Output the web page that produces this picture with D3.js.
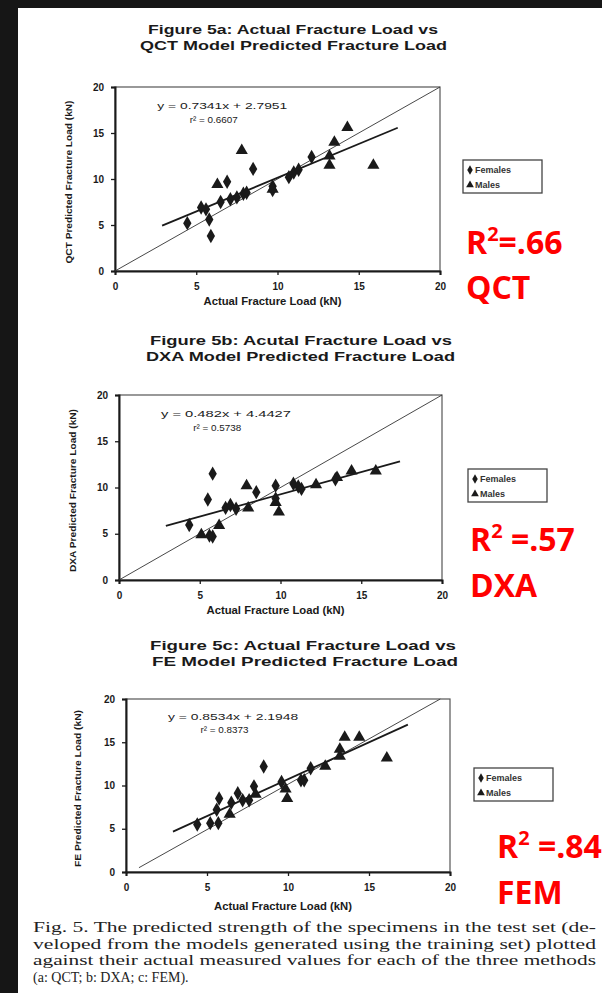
<!DOCTYPE html>
<html><head><meta charset="utf-8">
<script src="https://cdn.jsdelivr.net/npm/d3@7"></script>
<style>
html,body{margin:0;padding:0;background:#fff;}
svg{display:block;}
</style></head>
<body>
<svg id="chart" width="602" height="993"></svg>
<script>
// ---------- DATA ----------
const axisTicks = [0, 5, 10, 15, 20];
const panelTitles = [
  ["Figure 5a: Actual Fracture Load vs", "QCT Model Predicted Fracture Load"],
  ["Figure 5b: Acutal Fracture Load vs", "DXA Model Predicted Fracture Load"],
  ["Figure 5c: Actual Fracture Load vs", "FE Model Predicted Fracture Load"]
];
const yTitles = ["QCT Predicted Fracture Load (kN)", "DXA Predicted Fracture Load (kN)", "FE Predicted Fracture Load (kN)"];
const xTitle = "Actual Fracture Load (kN)";
const seriesNames = ["Females", "Males"];
const equations = ["y = 0.7341x + 2.7951", "y = 0.482x + 4.4427", "y = 0.8534x + 2.1948"];
const rSquared = ["r² = 0.6607", "r² = 0.5738", "r² = 0.8373"];
const slopes = [0.7341, 0.482, 0.8534];
const intercepts = [2.7951, 4.4427, 2.1948];
const fitRange = [2.9, 17.4];
const identityLines = [[[0, 0], [20, 20]], [[0, 0], [20, 20]], [[0.8, 0.5], [19.4, 20]]];
const redValues = ["=.66", " =.57", " =.84"];
const redMethods = ["QCT", "DXA", "FEM"];

const qctFemales = [[4.45,5.2],[5.3,6.9],[5.6,6.7],[5.8,5.6],[5.9,3.8],[6.9,9.7],[6.5,7.5],[7.1,7.8],[7.5,8.0],[7.9,8.4],[8.1,8.5],[8.5,11.1],[9.7,9.2],[9.7,8.8],[10.7,10.2],[11.0,10.7],[11.3,11.0],[12.1,12.4]];
const qctMales = [[6.3,9.5],[7.8,13.2],[9.7,9.0],[13.2,12.6],[13.2,11.6],[13.5,14.1],[14.3,15.7],[15.9,11.6]];
const dxaFemales = [[4.35,5.95],[5.8,4.7],[5.6,4.8],[5.8,11.5],[5.5,8.7],[6.6,7.8],[6.9,8.1],[7.25,7.7],[8.5,9.5],[9.7,10.2],[9.7,8.8],[10.8,10.4],[11.1,10.1],[11.3,9.85],[13.4,10.9]];
const dxaMales = [[5.1,5.0],[6.2,6.0],[7.9,10.3],[8.0,7.9],[9.7,8.5],[9.9,7.45],[12.2,10.4],[13.5,11.2],[14.4,11.9],[15.9,11.9]];
const feFemales = [[4.4,5.5],[5.2,5.65],[5.7,5.65],[5.6,7.2],[5.75,8.5],[6.5,8.0],[6.9,9.1],[7.2,8.3],[7.6,8.3],[7.9,9.9],[8.5,12.2],[9.6,10.4],[10.8,10.6],[11.0,10.6],[11.4,12.0]];
const feMales = [[6.4,6.8],[8.0,9.1],[9.85,9.7],[9.95,8.6],[12.3,12.35],[13.2,13.5],[13.2,14.3],[13.5,15.7],[14.4,15.7],[16.1,13.3]];
const femalesByPanel = [qctFemales, dxaFemales, feFemales];
const malesByPanel = [qctMales, dxaMales, feMales];

const captionLines = [
  "Fig. 5. The predicted strength of the specimens in the test set (de-",
  "veloped from the models generated using the training set) plotted",
  "against their actual measured values for each of the three methods",
  "(a: QCT; b: DXA; c: FEM)."
];

// ---------- LAYOUT ----------
const layout = [
  {x0:115, x1:440, yTop:87,  yBot:271, titleY:[34,50],   titleX:[148,438,140,447], yTitleX:72, xTitleY:305, legend:[463,160], redX:466, redY:[254,299]},
  {x0:119, x1:442, yTop:395, yBot:580, titleY:[345,361], titleX:[150,452,146,455], yTitleX:76, xTitleY:614, legend:[468,469], redX:470, redY:[551,597]},
  {x0:126, x1:450, yTop:699, yBot:872, titleY:[650,666], titleX:[150,456,152,458], yTitleX:81, xTitleY:910, legend:[474,768], redX:497, redY:[858,904]}
];

const svg = d3.select("#chart");
svg.append("rect").attr("width",602).attr("height",993).attr("fill","#fff");
svg.append("rect").attr("x",0).attr("y",0).attr("width",602).attr("height",8).attr("fill","#161616");
svg.append("rect").attr("x",0).attr("y",0).attr("width",18).attr("height",993).attr("fill","#161616");

const ink = "#1a1a1a";
const font = "Liberation Sans, Arial, sans-serif";
const diamond = d3.symbol().type(d3.symbolDiamond).size(60);
const triangle = d3.symbol().type(d3.symbolTriangle).size(64);

layout.forEach((L, i) => {
  const g = svg.append("g");
  const x = d3.scaleLinear().domain([0, 20]).range([L.x0, L.x1]);
  const y = d3.scaleLinear().domain([0, 20]).range([L.yBot, L.yTop]);

  // titles
  panelTitles[i].forEach((t, k) => {
    g.append("text").attr("x", L.titleX[k*2]).attr("y", L.titleY[k])
      .attr("textLength", L.titleX[k*2+1] - L.titleX[k*2]).attr("lengthAdjust","spacingAndGlyphs")
      .attr("font-family",font).attr("font-weight","bold")
      .attr("font-size",12.5).attr("fill",ink).text(t);
  });

  // plot frame
  g.append("rect").attr("x", L.x0).attr("y", L.yTop).attr("width", L.x1 - L.x0).attr("height", L.yBot - L.yTop)
    .attr("fill","none").attr("stroke","#555").attr("stroke-width",1.2);

  // axes
  const xAxis = d3.axisBottom(x).tickValues(axisTicks).tickSize(4).tickPadding(8);
  const yAxis = d3.axisLeft(y).tickValues(axisTicks).tickSize(4).tickPadding(7);
  const gx = g.append("g").attr("transform", `translate(0,${L.yBot})`).call(xAxis);
  const gy = g.append("g").attr("transform", `translate(${L.x0},0)`).call(yAxis);
  [gx, gy].forEach(a => {
    a.select(".domain").attr("stroke", ink).attr("stroke-width", 2);
    a.selectAll(".tick line").attr("stroke", ink).attr("stroke-width", 1.3);
    a.selectAll(".tick text").attr("font-family",font)
      .attr("font-weight","bold").attr("font-size",10).attr("fill",ink);
  });

  // axis titles
  g.append("text").attr("x", (L.x0 + L.x1)/2 - 5).attr("y", L.xTitleY).attr("text-anchor","middle")
    .attr("font-family",font).attr("font-weight","bold").attr("font-size",10)
    .attr("textLength",138).attr("lengthAdjust","spacingAndGlyphs")
    .attr("fill",ink).text(xTitle);
  g.append("text").attr("transform", `translate(${L.yTitleX},${(L.yTop + L.yBot)/2 + 3}) rotate(-90)`)
    .attr("text-anchor","middle").attr("font-family",font)
    .attr("font-weight","bold").attr("font-size",9).attr("textLength", i === 2 ? 157 : 163).attr("lengthAdjust","spacingAndGlyphs")
    .attr("fill",ink).text(yTitles[i]);

  // identity line
  const line = d3.line().x(d => x(d[0])).y(d => y(d[1]));
  g.append("path").datum(identityLines[i]).attr("d", line).attr("fill","none").attr("stroke","#333").attr("stroke-width",0.9);
  // regression line
  const fit = fitRange.map(v => [v, slopes[i]*v + intercepts[i]]);
  g.append("path").datum(fit).attr("d", line).attr("fill","none").attr("stroke",ink).attr("stroke-width",1.8);

  // equation
  g.append("text").attr("x", x(2.6)).attr("y", y(17.6)).attr("font-family",font)
    .attr("font-size",9).attr("textLength",130).attr("lengthAdjust","spacingAndGlyphs")
    .attr("fill",ink).text(equations[i]);
  g.append("text").attr("x", x(4.6)).attr("y", y(16.1)).attr("font-family",font)
    .attr("font-size",9).attr("textLength",48).attr("lengthAdjust","spacingAndGlyphs")
    .attr("fill",ink).text(rSquared[i]);

  // points
  g.selectAll(".f").data(femalesByPanel[i]).join("path")
    .attr("transform", d => `translate(${x(d[0])},${y(d[1])})`).attr("d", diamond).attr("fill", ink);
  g.selectAll(".m").data(malesByPanel[i]).join("path")
    .attr("transform", d => `translate(${x(d[0])},${y(d[1]) + 1})`).attr("d", triangle).attr("fill", ink);

  // legend
  const lg = g.append("g").attr("transform", `translate(${L.legend[0]},${L.legend[1]})`);
  lg.append("rect").attr("width",79).attr("height",33).attr("fill","#fff").attr("stroke","#444").attr("stroke-width",1.3);
  lg.append("path").attr("transform","translate(7,10)").attr("d", d3.symbol().type(d3.symbolDiamond).size(26)).attr("fill",ink);
  lg.append("path").attr("transform","translate(7,25)").attr("d", d3.symbol().type(d3.symbolTriangle).size(26)).attr("fill",ink);
  seriesNames.forEach((n, k) => {
    lg.append("text").attr("x", 12).attr("y", 13 + k*15).attr("font-family",font)
      .attr("font-size",9).attr("font-weight","bold").attr("fill","#333").text(n);
  });

  // red annotation
  const rt = svg.append("text").attr("x", L.redX).attr("y", L.redY[0]).attr("font-family","Open Sans, sans-serif")
    .attr("font-weight","bold").attr("font-size",32).attr("fill","#ff0000");
  rt.append("tspan").text("R");
  rt.append("tspan").attr("font-size",20).attr("dy",-13).text("2");
  rt.append("tspan").attr("dy",13).text(redValues[i]);
  svg.append("text").attr("x", L.redX).attr("y", L.redY[1]).attr("font-family","Open Sans, sans-serif")
    .attr("font-weight","bold").attr("font-size",32).attr("fill","#ff0000").text(redMethods[i]);
});

// caption (justified)
captionLines.forEach((t, k) => {
  const tx = svg.append("text").attr("x", 33).attr("y", 932 + k*16.5)
    .attr("font-family","Liberation Serif, Times New Roman, serif").attr("font-size",14).attr("fill","#222").text(t);
  if (k < 3) tx.attr("textLength", 563).attr("lengthAdjust","spacingAndGlyphs");
});
</script>
</body></html>
